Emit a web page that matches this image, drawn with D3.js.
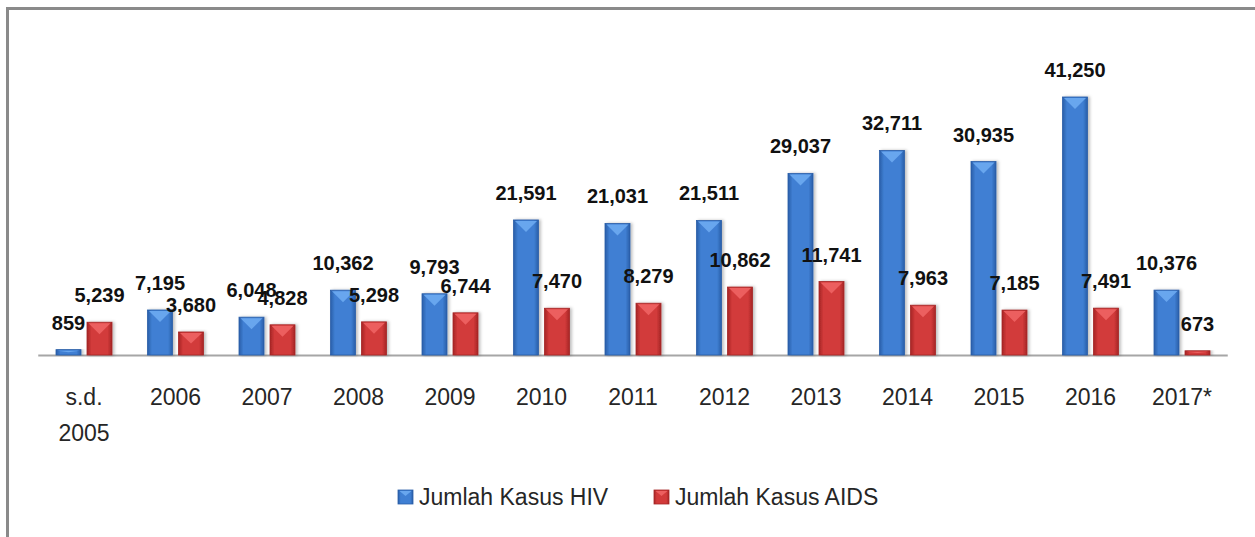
<!DOCTYPE html>
<html>
<head>
<meta charset="utf-8">
<script src="https://cdn.jsdelivr.net/npm/d3@7"></script>
<style>
  html, body { margin: 0; padding: 0; background: #fff; }
  svg { display: block; font-family: "Liberation Sans", Arial, sans-serif; }
</style>
</head>
<body>
<div id="wrapper"></div>
<script>
const categories = ['s.d.|2005', '2006', '2007', '2008', '2009', '2010', '2011', '2012', '2013', '2014', '2015', '2016', '2017*']
const hivValues = [859, 7195, 6048, 10362, 9793, 21591, 21031, 21511, 29037, 32711, 30935, 41250, 10376]
const aidsValues = [5239, 3680, 4828, 5298, 6744, 7470, 8279, 10862, 11741, 7963, 7185, 7491, 673]
const seriesNames = ['Jumlah Kasus HIV', 'Jumlah Kasus AIDS']

const dimensions = {
    width: 1255,
    height: 537,
    baseline: 355,
    left: 38.25,
    right: 1227.75
}

const colors = {
    hiv: { edge: '#2a5ea8', body: '#3f7fd3', light: '#68a6ee' },
    aids: { edge: '#a52626', body: '#d23a3a', light: '#ec5f5f' }
}

const rows = categories.map((c, i) => ({ cat: c, hiv: hivValues[i], aids: aidsValues[i] }))

const svg = d3.select('#wrapper').append('svg')
    .attr('width', dimensions.width)
    .attr('height', dimensions.height)

const defs = svg.append('defs')
Object.entries(colors).forEach(([key, c]) => {
    const g = defs.append('linearGradient').attr('id', 'grad-' + key)
        .attr('x1', 0).attr('x2', 1).attr('y1', 0).attr('y2', 0)
    g.append('stop').attr('offset', '0%').attr('stop-color', c.edge)
    g.append('stop').attr('offset', '18%').attr('stop-color', c.body)
    g.append('stop').attr('offset', '82%').attr('stop-color', c.body)
    g.append('stop').attr('offset', '100%').attr('stop-color', c.edge)
})
const blur = defs.append('filter').attr('id', 'shadow').attr('x', '-20%').attr('width', '150%')
blur.append('feDropShadow').attr('dx', 2).attr('dy', 0).attr('stdDeviation', 1.5)
    .attr('flood-color', '#000').attr('flood-opacity', 0.25)

// frame
svg.append('rect')
    .attr('x', 7.5).attr('y', 8.5)
    .attr('width', 1300).attr('height', 600)
    .attr('fill', '#fff')
    .attr('stroke', '#8a8a8a')
    .attr('stroke-width', 3)

const xScale = d3.scaleBand()
    .domain(categories)
    .range([dimensions.left, dimensions.right])

const xInner = d3.scaleBand()
    .domain(['hiv', 'aids'])
    .range([17.75, 73.75])
    .paddingInner(6 / 31)

const yScale = d3.scaleLinear()
    .domain([0, 45000])
    .range([dimensions.baseline, 73.55])

// baseline
svg.append('line')
    .attr('x1', dimensions.left).attr('x2', dimensions.right)
    .attr('y1', dimensions.baseline + 0.5).attr('y2', dimensions.baseline + 0.5)
    .attr('stroke', '#a6a6a6')
    .attr('stroke-width', 2)

function drawBars (key) {
    const c = colors[key]
    const groups = svg.append('g').selectAll('g')
        .data(rows)
        .join('g')
        .attr('transform', d => `translate(${xScale(d.cat) + xInner(key)},0)`)

    const w = xInner.bandwidth()
    groups.append('rect')
        .attr('x', 0)
        .attr('y', d => yScale(d[key]))
        .attr('width', w)
        .attr('height', d => dimensions.baseline - yScale(d[key]))
        .attr('fill', `url(#grad-${key})`)
        .attr('stroke', c.edge)
        .attr('stroke-width', 0.8)
        .attr('filter', 'url(#shadow)')

    // bevel triangle at the top
    groups.append('path')
        .attr('d', d => {
            const top = yScale(d[key])
            const h = Math.min(12, (dimensions.baseline - top) / 2)
            return `M1.5,${top + 1}L${w - 1.5},${top + 1}L${w / 2},${top + h}Z`
        })
        .attr('fill', c.light)

    groups.append('text')
        .attr('x', w / 2)
        .attr('y', d => yScale(d[key]) - 20)
        .attr('text-anchor', 'middle')
        .attr('font-size', 20)
        .attr('font-weight', 'bold')
        .attr('fill', '#111')
        .text(d => d3.format(',')(d[key]))
}

drawBars('hiv')
drawBars('aids')

// category labels
const xLabels = svg.append('g').selectAll('text')
    .data(categories)
    .join('text')
    .attr('x', d => xScale(d) + xScale.bandwidth() / 2)
    .attr('y', 405)
    .attr('text-anchor', 'middle')
    .attr('font-size', 23)
    .attr('fill', '#262626')

xLabels.selectAll('tspan')
    .data(d => d.split('|'))
    .join('tspan')
    .attr('x', function () { return d3.select(this.parentNode).attr('x') })
    .attr('dy', (d, i) => i === 0 ? 0 : 36)
    .text(d => d)

// legend
const legendX = [398, 654]
const legend = svg.append('g').selectAll('g')
    .data(seriesNames)
    .join('g')
    .attr('transform', (d, i) => `translate(${legendX[i]},490)`)

legend.append('rect')
    .attr('width', 15).attr('height', 14)
    .attr('fill', (d, i) => `url(#grad-${i === 0 ? 'hiv' : 'aids'})`)
    .attr('stroke', (d, i) => i === 0 ? colors.hiv.edge : colors.aids.edge)
    .attr('stroke-width', 0.8)

legend.append('path')
    .attr('d', 'M1.5,1L13.5,1L7.5,6Z')
    .attr('fill', (d, i) => i === 0 ? colors.hiv.light : colors.aids.light)

legend.append('text')
    .attr('x', 21)
    .attr('y', 15)
    .attr('font-size', 23)
    .attr('fill', '#262626')
    .text(d => d)
</script>
</body>
</html>
